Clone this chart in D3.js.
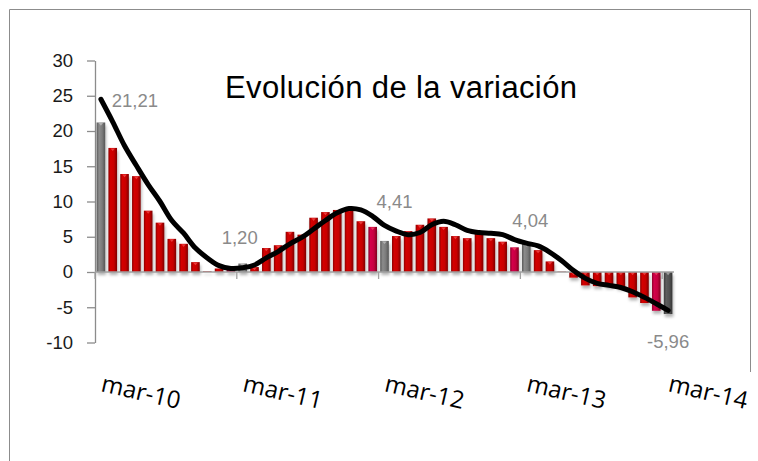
<!DOCTYPE html>
<html>
<head>
<meta charset="utf-8">
<script src="https://cdn.jsdelivr.net/npm/d3@7"></script>
<style>
  html, body { margin: 0; padding: 0; background: #fff; }
  svg { display: block; }
</style>
</head>
<body>
<svg id="chart" width="758" height="461"></svg>
<script>
'use strict'

const monthNames = ['mar', 'abr', 'may', 'jun', 'jul', 'ago', 'sep', 'oct', 'nov', 'dic', 'ene', 'feb']
const years = ['10', '11', '12', '13', '14']

// Monthly variation (bars), mar-10 .. mar-14
const variation = [
  21.21, 17.6, 13.9, 13.6, 8.7, 7.0, 4.7, 4.0, 1.4, 0.1, 0.5, 0.4,
  1.2, 0.7, 3.4, 3.8, 5.7, 5.3, 7.7, 8.5, 8.8, 9.0, 7.2, 6.4,
  4.41, 5.1, 5.8, 6.7, 7.6, 6.4, 5.1, 4.8, 5.8, 4.8, 4.3, 3.5,
  4.04, 3.1, 1.5, 0.05, -0.8, -1.9, -2.0, -2.0, -2.2, -3.6, -4.4, -5.5,
  -5.96
]

// Smoothed trend (black line)
const trend = [
  24.5, 21.3, 17.9, 15.1, 12.4, 10.0, 7.3, 5.5, 3.4, 2.0, 0.9, 0.5,
  0.6, 1.0, 2.0, 2.9, 4.0, 4.9, 6.1, 7.3, 8.4, 9.0, 8.8, 7.9,
  6.6, 5.8, 5.3, 5.6, 6.7, 7.2, 6.7, 5.9, 5.6, 5.5, 5.3, 4.6,
  4.1, 3.7, 2.8, 1.6, 0.2, -0.9, -1.6, -1.9, -2.2, -2.8, -3.6, -4.5,
  -5.45
]

const yTicks = [30, 25, 20, 15, 10, 5, 0, -5, -10]
const xTickLabels = ['mar-10', 'mar-11', 'mar-12', 'mar-13', 'mar-14']
const annotated = ['mar-10', 'mar-11', 'mar-12', 'mar-13', 'mar-14']
const annotationText = ['21,21', '1,20', '4,41', '4,04', '-5,96']

const categories = []
years.forEach((yr, yi) => {
  monthNames.forEach((m, mi) => {
    const y = mi < 10 ? yr : years[yi + 1]
    if (y && categories.length < variation.length) categories.push(`${m}-${y}`)
  })
})
if (categories.length < variation.length) categories.push('mar-14')

const data = categories.map((c, i) => ({ cat: c, v: variation[i], t: trend[i] }))

const svg = d3.select('#chart')
const left = 95, right = 674

const x = d3.scaleBand().domain(categories).range([left, right])
const y = d3.scaleLinear().domain([-10, 30]).range([342.5, 60.5])
const barW = x.bandwidth() * 0.73

// outer frame
svg.append('path')
  .attr('d', 'M9.5,461 V9.5 H750.5 V372')
  .attr('fill', 'none')
  .attr('stroke', '#8c8c8c')
  .attr('stroke-width', 1)

const defs = svg.append('defs')
const grad = (id, stops) => {
  const g = defs.append('linearGradient').attr('id', id)
    .attr('x1', '0%').attr('x2', '100%').attr('y1', '0%').attr('y2', '0%')
  stops.forEach(([o, c]) => g.append('stop').attr('offset', o).attr('stop-color', c))
}
grad('red', [['0%', '#8a0000'], ['25%', '#d40000'], ['65%', '#c70000'], ['100%', '#7e0000']])
grad('crimson', [['0%', '#8c0028'], ['25%', '#d4004a'], ['65%', '#c4003f'], ['100%', '#80001f']])
grad('gray', [['0%', '#5a5a5a'], ['30%', '#8c8c8c'], ['65%', '#7a7a7a'], ['100%', '#555']])
grad('dark', [['0%', '#3a3a3a'], ['30%', '#5e5e5e'], ['65%', '#505050'], ['100%', '#353535']])
defs.append('filter').attr('id', 'shadow')
  .attr('x', '-50%').attr('y', '-10%').attr('width', '200%').attr('height', '130%')
  .append('feDropShadow')
  .attr('dx', 1).attr('dy', 3).attr('stdDeviation', 1.8)
  .attr('flood-color', '#000').attr('flood-opacity', 0.3)

const fillFor = (d, i) => {
  if (i === data.length - 1) return 'url(#dark)'
  if (annotated.includes(d.cat)) return 'url(#gray)'
  if (annotated.includes(categories[i + 1])) return 'url(#crimson)'
  return 'url(#red)'
}

// y axis
const yAxis = svg.append('g')
  .attr('transform', `translate(${left},0)`)
  .call(d3.axisLeft(y).tickValues(yTicks).tickSize(8).tickSizeOuter(0).tickPadding(14)
    .tickFormat(d => d))
yAxis.select('.domain').attr('stroke', '#8c8c8c').attr('stroke-width', 1.3)
yAxis.selectAll('.tick line').attr('stroke', '#8c8c8c').attr('stroke-width', 1.3)
yAxis.selectAll('.tick text')
  .attr('font-family', 'Liberation Sans, Arial, sans-serif')
  .attr('font-size', 18.5)
  .attr('fill', '#1a1a1a')
  .text(d => (d < 0 ? '-' + Math.abs(d) : d))

// bars
const bars = svg.append('g').attr('filter', 'url(#shadow)')
bars.selectAll('rect')
  .data(data)
  .join('rect')
  .attr('x', d => x(d.cat) + (x.bandwidth() - barW) / 2)
  .attr('y', d => y(Math.max(0, d.v)))
  .attr('width', barW)
  .attr('height', d => Math.abs(y(d.v) - y(0)))
  .attr('fill', fillFor)

// small bevel marks at bar tops
svg.append('g').selectAll('path')
  .data(data.filter(d => Math.abs(d.v) > 0.6))
  .join('path')
  .attr('d', d => {
    const cx = x(d.cat) + x.bandwidth() / 2
    const top = y(Math.max(0, d.v))
    return `M${cx - 2.2},${top + 0.5} L${cx + 2.2},${top + 0.5} L${cx},${top + 3.2} Z`
  })
  .attr('fill', d => (annotated.includes(d.cat) ? '#d8d8d8' : '#ff6b6b'))
  .attr('opacity', 0.55)

// x axis (zero line)
const xAxis = svg.append('g')
xAxis.append('line')
  .attr('x1', left).attr('x2', right)
  .attr('y1', y(0)).attr('y2', y(0))
  .attr('stroke', '#a0a0a0').attr('stroke-width', 1.3)
xAxis.selectAll('.xtick')
  .data(xTickLabels)
  .join('line')
  .attr('class', 'xtick')
  .attr('x1', d => x(d)).attr('x2', d => x(d))
  .attr('y1', y(0)).attr('y2', y(0) + 7)
  .attr('stroke', '#a0a0a0').attr('stroke-width', 1.3)
xAxis.selectAll('.xlabel')
  .data(xTickLabels)
  .join('text')
  .attr('class', 'xlabel')
  .attr('transform', d => `translate(${x(d) + 5},391) rotate(13)`)
  .attr('font-family', 'Open Sans, sans-serif')
  .attr('font-size', 24)
  .attr('fill', '#000')
  .text(d => d)

// trend line
svg.append('path')
  .datum(data)
  .attr('fill', 'none')
  .attr('stroke', '#000')
  .attr('stroke-width', 5)
  .attr('stroke-linecap', 'round')
  .attr('stroke-linejoin', 'round')
  .attr('d', d3.line()
    .x(d => x(d.cat) + x.bandwidth() / 2)
    .y(d => y(d.t))
    .curve(d3.curveCatmullRom.alpha(0.5)))

// value labels on the March bars
const labelShift = [[34, -15], [-3, -20], [10, -33], [4, -17], [0, 34]]
svg.append('g').selectAll('text')
  .data(annotated)
  .join('text')
  .attr('x', (c, i) => x(c) + x.bandwidth() / 2 + labelShift[i][0])
  .attr('y', (c, i) => {
    const v = variation[categories.indexOf(c)]
    return y(Math.max(0, v)) + labelShift[i][1] + (v < 0 ? y(v) - y(0) : 0)
  })
  .attr('text-anchor', 'middle')
  .attr('font-family', 'Liberation Sans, Arial, sans-serif')
  .attr('font-size', 18.5)
  .attr('fill', '#8a8a8a')
  .text((c, i) => annotationText[i])

// title
svg.append('text')
  .attr('x', 225).attr('y', 98)
  .attr('font-family', 'Liberation Sans, Arial, sans-serif')
  .attr('font-size', 31)
  .attr('textLength', 352)
  .attr('lengthAdjust', 'spacing')
  .attr('fill', '#000')
  .text('Evolución de la variación')
</script>
</body>
</html>
